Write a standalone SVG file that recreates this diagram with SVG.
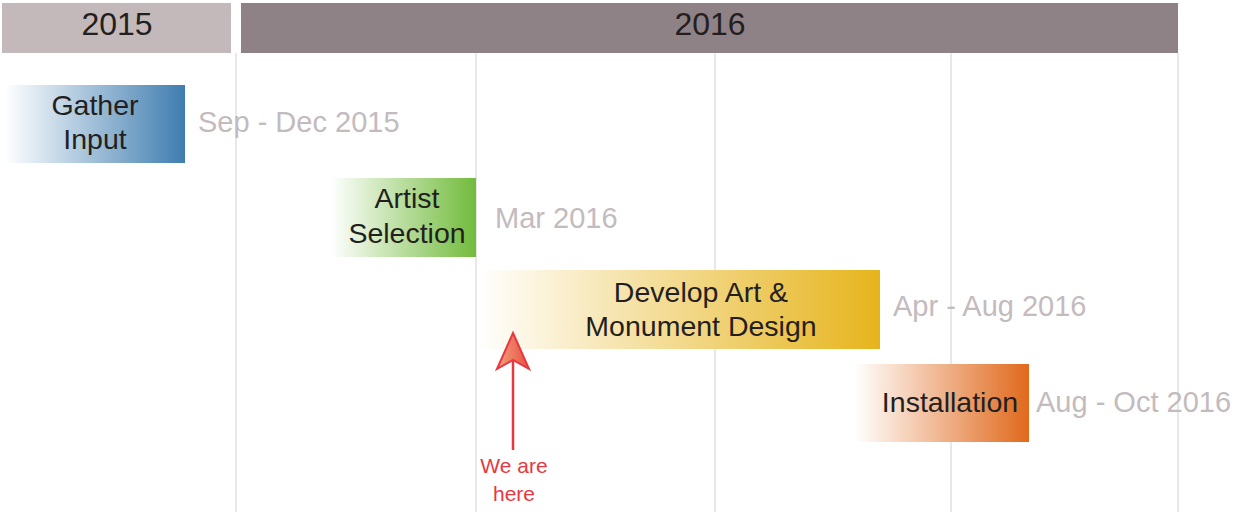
<svg xmlns="http://www.w3.org/2000/svg" width="1234" height="512" viewBox="0 0 1234 512">
<defs>
<linearGradient id="gBlue" x1="0" y1="0" x2="1" y2="0"><stop offset="0" stop-color="#ffffff"/><stop offset="1" stop-color="#3f7db0"/></linearGradient>
<linearGradient id="gGreen" x1="0" y1="0" x2="1" y2="0"><stop offset="0" stop-color="#ffffff"/><stop offset="1" stop-color="#72bb3c"/></linearGradient>
<linearGradient id="gGold" x1="0" y1="0" x2="1" y2="0"><stop offset="0" stop-color="#ffffff"/><stop offset="1" stop-color="#e6b41c"/></linearGradient>
<linearGradient id="gOrange" x1="0" y1="0" x2="1" y2="0"><stop offset="0" stop-color="#ffffff"/><stop offset="1" stop-color="#e0691c"/></linearGradient>
<linearGradient id="gArrow" x1="0" y1="0" x2="1" y2="0"><stop offset="0" stop-color="#f4a080"/><stop offset="1" stop-color="#e8503f"/></linearGradient>
<style>
.grid{stroke:#e2e0e1;stroke-width:1.5}
.lbl{font-family:"Liberation Sans",Arial,sans-serif;font-size:28.5px;fill:#231f20;text-anchor:middle}
.hdr{font-family:"Liberation Sans",Arial,sans-serif;font-size:32px;fill:#231f20;text-anchor:middle}
.date{font-family:"Liberation Sans",Arial,sans-serif;font-size:29px;fill:#c3bbbd}
.here{font-family:"Liberation Sans",Arial,sans-serif;font-size:21px;fill:#e8373f;text-anchor:middle}
</style>
</defs>
<rect width="1234" height="512" fill="#ffffff"/>
<g id="grid">
<line class="grid" x1="236" y1="53" x2="236" y2="512"/>
<line class="grid" x1="476" y1="53" x2="476" y2="512"/>
<line class="grid" x1="715" y1="53" x2="715" y2="512"/>
<line class="grid" x1="951" y1="53" x2="951" y2="512"/>
<line class="grid" x1="1178" y1="53" x2="1178" y2="512"/>
</g>
<g id="h2015">
<rect x="2" y="3" width="229" height="50" fill="#c4b9ba"/>
<text class="hdr" x="117" y="35">2015</text>
</g>
<g id="h2016">
<rect x="241" y="3" width="937" height="50" fill="#8f8287"/>
<text class="hdr" x="710" y="35">2016</text>
</g>
<g id="gather">
<rect x="5" y="85" width="180" height="78" fill="url(#gBlue)"/>
<text class="lbl" x="95" y="115">Gather</text>
<text class="lbl" x="95" y="149">Input</text>
<text class="date" x="198" y="132">Sep - Dec 2015</text>
</g>
<g id="artist">
<rect x="330" y="178" width="146" height="79" fill="url(#gGreen)"/>
<text class="lbl" x="407" y="208">Artist</text>
<text class="lbl" x="407" y="243">Selection</text>
<text class="date" x="495" y="228">Mar 2016</text>
</g>
<g id="develop">
<rect x="477" y="270" width="403" height="79" fill="url(#gGold)"/>
<text class="lbl" x="701" y="302">Develop Art &amp;</text>
<text class="lbl" x="701" y="336">Monument Design</text>
<text class="date" x="893" y="316">Apr - Aug 2016</text>
</g>
<g id="install">
<rect x="855" y="364" width="174" height="78" fill="url(#gOrange)"/>
<text class="lbl" x="950" y="412">Installation</text>
<text class="date" x="1036" y="412">Aug - Oct 2016</text>
</g>
<g id="connectors">
<line x1="513" y1="450" x2="513" y2="355" stroke="#e8373f" stroke-width="2.5"/>
<path d="M513,333 L529,369 L513,360 L497,369 Z" fill="url(#gArrow)" stroke="#e8373f" stroke-width="2" stroke-linejoin="miter"/>
</g>
<g id="marker">
<text class="here" x="514" y="473">We are</text>
<text class="here" x="514" y="501">here</text>
</g>
</svg>
